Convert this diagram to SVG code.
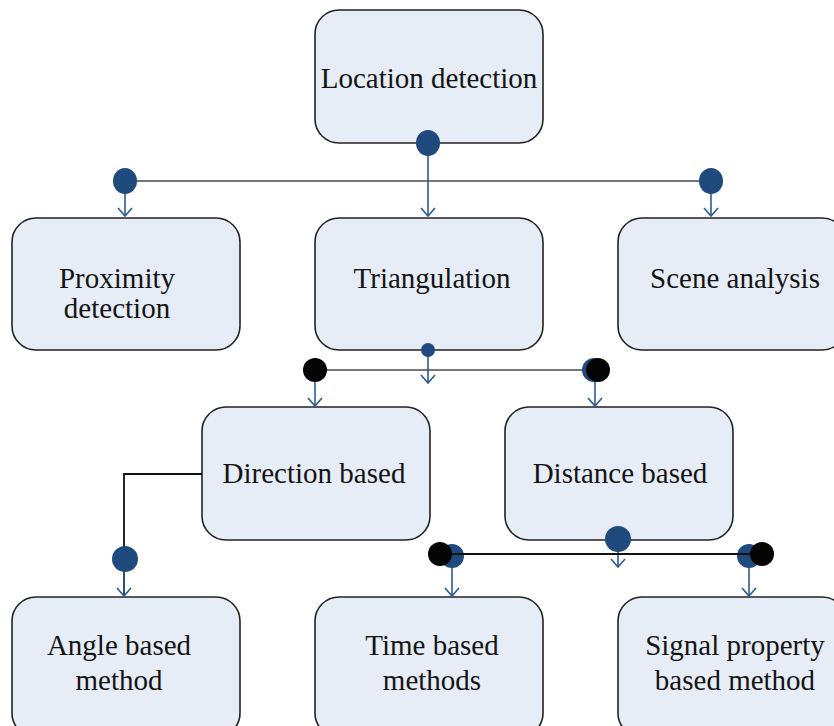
<svg xmlns="http://www.w3.org/2000/svg" width="834" height="726" viewBox="0 0 834 726">
<defs>
<style>
.node rect{fill:#E6EDF7;stroke:#222;stroke-width:1.6}
.node text{font-family:"Liberation Serif","Times New Roman",serif;font-size:29px;fill:#141414;text-anchor:middle}
.arr{stroke:#2E5A92;stroke-width:1.6;fill:none;marker-end:url(#ah)}
.hl{stroke:#777;stroke-width:2;fill:none}
.hk{stroke:#111;stroke-width:2;fill:none}
.bd{fill:#1F4A7E}
.kd{fill:#050505}
</style>
<marker id="ah" viewBox="-10 -10 20 20" refX="0" refY="0" markerWidth="20" markerHeight="20" markerUnits="userSpaceOnUse" orient="auto">
<path d="M-8,-7 L0,0 L-8,7" fill="none" stroke="#2E5A92" stroke-width="1.6"/>
</marker>
</defs>
<rect width="834" height="726" fill="#fff"/>

<g id="location-detection" class="node">
<rect x="315" y="10" width="228" height="133" rx="24"/>
<text x="429" y="88">Location detection</text>
</g>
<g id="proximity-detection" class="node">
<rect x="12" y="218" width="228" height="132" rx="24"/>
<text x="117" y="288">Proximity</text>
<text x="117" y="318">detection</text>
</g>
<g id="triangulation" class="node">
<rect x="315" y="218" width="228" height="132" rx="24"/>
<text x="432" y="288">Triangulation</text>
</g>
<g id="scene-analysis" class="node">
<rect x="618" y="218" width="228" height="132" rx="24"/>
<text x="735" y="288">Scene analysis</text>
</g>
<g id="direction-based" class="node">
<rect x="202" y="407" width="228" height="133" rx="24"/>
<text x="314" y="483">Direction based</text>
</g>
<g id="distance-based" class="node">
<rect x="505" y="407" width="228" height="133" rx="24"/>
<text x="620" y="483">Distance based</text>
</g>
<g id="angle-based-method" class="node">
<rect x="12" y="597" width="228" height="140" rx="24"/>
<text x="119" y="655">Angle based</text>
<text x="119" y="690">method</text>
</g>
<g id="time-based-methods" class="node">
<rect x="315" y="597" width="228" height="140" rx="24"/>
<text x="432" y="655">Time based</text>
<text x="432" y="690">methods</text>
</g>
<g id="signal-property-based-method" class="node">
<rect x="618" y="597" width="228" height="140" rx="24"/>
<text x="735" y="655">Signal property</text>
<text x="735" y="690">based method</text>
</g>

<g id="connectors">
<!-- level 1 -->
<line class="hl" x1="125" y1="181" x2="711" y2="181"/>
<line class="arr" x1="428" y1="143" x2="428" y2="216"/>
<line class="arr" x1="125" y1="181" x2="125" y2="216"/>
<line class="arr" x1="711" y1="181" x2="711" y2="216"/>
<ellipse class="bd" cx="428" cy="143" rx="12" ry="13"/>
<ellipse class="bd" cx="125" cy="181" rx="12" ry="13"/>
<ellipse class="bd" cx="711" cy="181" rx="12" ry="13"/>
<!-- level 2 -->
<line class="hl" x1="315" y1="370" x2="597" y2="370"/>
<line class="arr" x1="428" y1="350" x2="428" y2="383"/>
<line class="arr" x1="315" y1="370" x2="315" y2="406"/>
<line class="arr" x1="595" y1="370" x2="595" y2="406"/>
<circle class="bd" cx="428" cy="350" r="7"/>
<circle class="kd" cx="315" cy="370" r="12"/>
<circle class="bd" cx="594" cy="370" r="12"/>
<circle class="kd" cx="598" cy="370" r="12"/>
<!-- direction based -->
<polyline class="hk" points="202,474 124,474 124,596" style="stroke-width:1.8"/>
<line class="arr" x1="124" y1="560" x2="124" y2="596"/>
<circle class="bd" cx="125" cy="559" r="13"/>
<!-- distance based -->
<line class="arr" x1="452" y1="554" x2="452" y2="596"/>
<line class="arr" x1="749" y1="554" x2="749" y2="596"/>
<line class="arr" x1="618" y1="540" x2="618" y2="567"/>
<circle class="bd" cx="618" cy="539" r="13"/>
<circle class="bd" cx="452" cy="556" r="12"/>
<circle class="bd" cx="749" cy="556" r="12"/>
<line class="hk" x1="440" y1="554" x2="762" y2="554"/>
<circle class="kd" cx="440" cy="554" r="12"/>
<circle class="kd" cx="762" cy="554" r="12"/>
</g>
</svg>
